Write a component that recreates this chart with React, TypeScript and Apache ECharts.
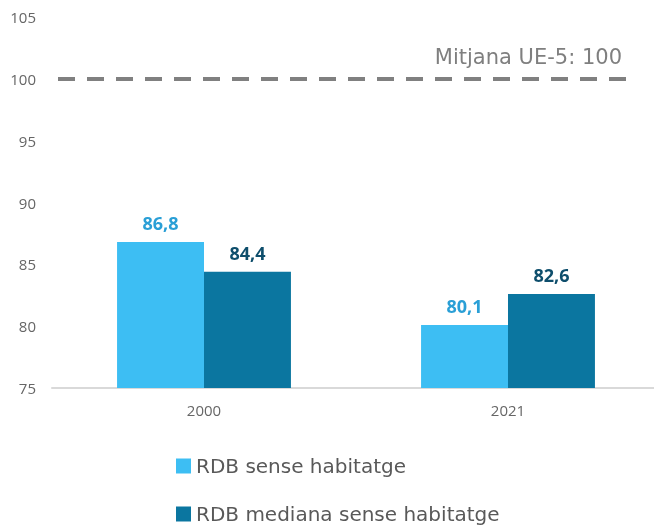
import React, { useEffect, useRef } from "react";
import * as echarts from "echarts";

const categories = ["2000", "2021"];
const seriesNames = ["RDB sense habitatge", "RDB mediana sense habitatge"];
const rdbSenseHabitatge = [86.8, 80.1];
const rdbMedianaSenseHabitatge = [84.4, 82.6];
const referenceValue = 100;
const referenceLabel = "Mitjana UE-5: 100";

const FONT = "'Open Sans', sans-serif";
const WIDE_FONT = "'DejaVu Sans', sans-serif";
const fmt = (v: number) => v.toFixed(1).replace(".", ",");

const legendBase = {
  orient: "vertical",
  left: 171,
  icon: "rect",
  itemWidth: 15,
  itemHeight: 15,
  itemGap: 10,
  textStyle: { fontSize: 20, color: "#595959", fontFamily: WIDE_FONT },
};

export default function App() {
  const ref = useRef<HTMLDivElement>(null);
  useEffect(() => {
    if (!ref.current) return;
    const chart = echarts.init(ref.current, undefined, { renderer: "svg" });
    chart.setOption({
      animation: false,
      textStyle: { fontFamily: FONT },
      grid: { left: 52, top: 17, right: 0, height: 371, containLabel: false },
      legend: [
        { ...legendBase, top: 451, data: [seriesNames[0]] },
        { ...legendBase, top: 499, data: [seriesNames[1]] },
      ],
      xAxis: {
        type: "category",
        data: categories,
        axisLine: { show: true, lineStyle: { color: "#d9d9d9", width: 2 } },
        axisTick: { show: false },
        axisLabel: { fontSize: 15, color: "#666666", margin: 14, fontFamily: FONT },
      },
      yAxis: {
        type: "value",
        min: 75,
        max: 105,
        interval: 5,
        axisLine: { show: false },
        axisTick: { show: false },
        splitLine: { show: false },
        axisLabel: { fontSize: 15, color: "#666666", margin: 16, fontFamily: FONT },
      },
      series: [
        {
          name: seriesNames[0],
          type: "bar",
          data: rdbSenseHabitatge,
          itemStyle: { color: "#3dbef3" },
          barGap: "0%",
          barCategoryGap: "42.8%",
          label: {
            show: true,
            position: "top",
            distance: 10,
            formatter: (p: any) => fmt(p.value),
            fontSize: 18,
            fontWeight: "bold",
            color: "#2a9fd6",
            fontFamily: FONT,
          },
          markLine: {
            silent: true,
            symbol: "none",
            label: { show: false },
            lineStyle: { type: [17, 12], color: "#808080", width: 4 },
            data: [[{ x: 58, yAxis: referenceValue }, { x: 635, yAxis: referenceValue }]],
          },
        },
        {
          name: seriesNames[1],
          type: "bar",
          data: rdbMedianaSenseHabitatge,
          itemStyle: { color: "#0b76a0" },
          barGap: "0%",
          barCategoryGap: "42.8%",
          label: {
            show: true,
            position: "top",
            distance: 10,
            formatter: (p: any) => fmt(p.value),
            fontSize: 18,
            fontWeight: "bold",
            color: "#0e4e6c",
            fontFamily: FONT,
          },
        },
      ],
      graphic: [
        {
          type: "text",
          right: 38,
          top: 46,
          style: { text: referenceLabel, fontSize: 21, fill: "#7f7f7f", fontFamily: WIDE_FONT },
        },
      ],
    });
    return () => chart.dispose();
  }, []);
  return <div ref={ref} style={{ position: "fixed", left: 0, top: 0, width: 660, height: 528 }} />;
}
